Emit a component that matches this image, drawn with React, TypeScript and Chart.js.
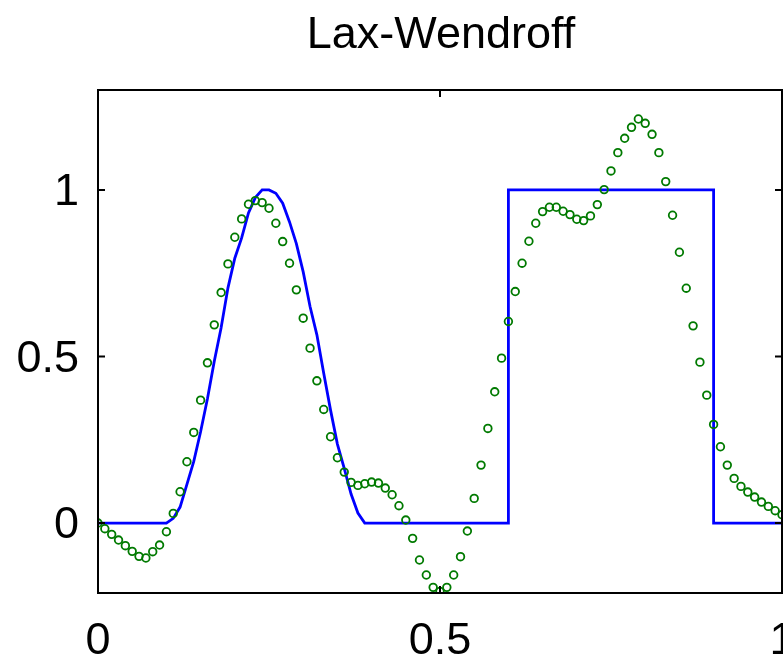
import { useEffect, useRef } from "react";
import { Chart, registerables } from "chart.js";

Chart.register(...registerables);

const TITLE = "Lax-Wendroff";
const FONT = "'Liberation Sans', Arial, Helvetica, sans-serif";

const X_MIN = 0;
const X_MAX = 1;
const Y_MIN = -0.21;
const Y_MAX = 1.3;
const X_TICKS = [0, 0.5, 1];
const Y_TICKS = [0, 0.5, 1];

// exact solution (blue line)
const exactX = [
  0, 0.1, 0.11, 0.12, 0.13, 0.14, 0.15, 0.16, 0.17, 0.18, 0.19, 0.2, 0.21, 0.22, 0.23, 0.24,
  0.25, 0.26, 0.27, 0.28, 0.29, 0.3, 0.31, 0.32, 0.33, 0.34, 0.35, 0.36, 0.37, 0.38, 0.39,
  0.6, 0.6, 0.9, 0.9, 1,
];
const exactY = [
  0, 0, 0.014, 0.048, 0.116, 0.185, 0.274, 0.373, 0.486, 0.586, 0.706, 0.795, 0.856, 0.931, 0.977, 1.0,
  1.0, 0.99, 0.96, 0.904, 0.839, 0.754, 0.65, 0.565, 0.45, 0.339, 0.237, 0.164, 0.087, 0.03, 0,
  0, 1, 1, 0, 0,
];

// numerical solution (green markers), grid x = 0, 0.01, ..., 1
const gridX = [
  0, 0.01, 0.02, 0.03, 0.04, 0.05, 0.06, 0.07, 0.08, 0.09,
  0.1, 0.11, 0.12, 0.13, 0.14, 0.15, 0.16, 0.17, 0.18, 0.19,
  0.2, 0.21, 0.22, 0.23, 0.24, 0.25, 0.26, 0.27, 0.28, 0.29,
  0.3, 0.31, 0.32, 0.33, 0.34, 0.35, 0.36, 0.37, 0.38, 0.39,
  0.4, 0.41, 0.42, 0.43, 0.44, 0.45, 0.46, 0.47, 0.48, 0.49,
  0.5, 0.51, 0.52, 0.53, 0.54, 0.55, 0.56, 0.57, 0.58, 0.59,
  0.6, 0.61, 0.62, 0.63, 0.64, 0.65, 0.66, 0.67, 0.68, 0.69,
  0.7, 0.71, 0.72, 0.73, 0.74, 0.75, 0.76, 0.77, 0.78, 0.79,
  0.8, 0.81, 0.82, 0.83, 0.84, 0.85, 0.86, 0.87, 0.88, 0.89,
  0.9, 0.91, 0.92, 0.93, 0.94, 0.95, 0.96, 0.97, 0.98, 0.99,
  1,
];
const laxWendroffU = [
  0, -0.017, -0.034, -0.051, -0.068, -0.085, -0.1, -0.105, -0.086, -0.066,
  -0.026, 0.029, 0.094, 0.184, 0.272, 0.369, 0.481, 0.595, 0.692, 0.778,
  0.858, 0.913, 0.957, 0.968, 0.962, 0.945, 0.9, 0.845, 0.78, 0.7,
  0.615, 0.525, 0.427, 0.341, 0.259, 0.196, 0.153, 0.122, 0.113, 0.118,
  0.123, 0.12, 0.105, 0.085, 0.052, 0.009, -0.046, -0.111, -0.156, -0.193,
  -0.205, -0.193, -0.156, -0.101, -0.024, 0.074, 0.174, 0.284, 0.394, 0.495,
  0.605, 0.695, 0.78, 0.846, 0.9, 0.935, 0.948, 0.948, 0.936, 0.926,
  0.912, 0.908, 0.922, 0.956, 1.001, 1.057, 1.112, 1.155, 1.188, 1.213,
  1.2, 1.167, 1.112, 1.025, 0.924, 0.813, 0.705, 0.592, 0.483, 0.384,
  0.296, 0.229, 0.174, 0.134, 0.11, 0.093, 0.078, 0.063, 0.05, 0.037,
  0.025,
];

const framePlugin = {
  id: "matlabFrame",
  afterDatasetsDraw(chart: any) {
    const { ctx, chartArea: a, scales } = chart;
    const len = 7;
    ctx.save();
    ctx.strokeStyle = "#000";
    ctx.lineWidth = 2;
    ctx.strokeRect(a.left, a.top, a.right - a.left, a.bottom - a.top);
    ctx.beginPath();
    for (const t of scales.x.ticks) {
      const px = scales.x.getPixelForValue(t.value);
      ctx.moveTo(px, a.bottom);
      ctx.lineTo(px, a.bottom - len);
      ctx.moveTo(px, a.top);
      ctx.lineTo(px, a.top + len);
    }
    for (const t of scales.y.ticks) {
      const py = scales.y.getPixelForValue(t.value);
      ctx.moveTo(a.left, py);
      ctx.lineTo(a.left + len, py);
      ctx.moveTo(a.right, py);
      ctx.lineTo(a.right - len, py);
    }
    ctx.stroke();
    ctx.restore();
  },
};

export default function App() {
  const ref = useRef<HTMLCanvasElement>(null);

  useEffect(() => {
    const chart = new Chart(ref.current as HTMLCanvasElement, {
      type: "scatter",
      data: {
        datasets: [
          {
            label: "Lax-Wendroff",
            data: gridX.map((x, i) => ({ x, y: laxWendroffU[i] })),
            showLine: false,
            pointStyle: "circle",
            pointRadius: 3.8,
            pointBorderWidth: 1.8,
            borderColor: "#007a00",
            backgroundColor: "rgba(255,255,255,0)",
            order: 0,
          },
          {
            label: "exact",
            data: exactX.map((x, i) => ({ x, y: exactY[i] })),
            showLine: true,
            pointRadius: 0,
            borderColor: "#0000ff",
            borderWidth: 2.8,
            backgroundColor: "#0000ff",
            tension: 0,
            order: 1,
          },
        ],
      },
      options: {
        animation: false,
        responsive: false,
        events: [],
        layout: { padding: 0 },
        plugins: {
          legend: { display: false },
          tooltip: { enabled: false },
          title: {
            display: true,
            text: TITLE,
            color: "#000",
            font: { family: FONT, size: 45, weight: "normal", lineHeight: 1 },
            padding: { top: 13, bottom: 32 },
          },
        },
        scales: {
          x: {
            type: "linear",
            position: "bottom",
            min: X_MIN,
            max: X_MAX,
            grid: { display: false, drawTicks: false },
            border: { display: false },
            afterBuildTicks: (s: any) => {
              s.ticks = X_TICKS.map((v) => ({ value: v }));
            },
            afterFit: (s: any) => {
              s.height = 69;
            },
            ticks: {
              autoSkip: false,
              maxRotation: 0,
              padding: 22,
              color: "#000",
              font: { family: FONT, size: 45 },
              callback: (v: any) => String(v),
            },
          },
          y: {
            type: "linear",
            position: "left",
            min: Y_MIN,
            max: Y_MAX,
            grid: { display: false, drawTicks: false },
            border: { display: false },
            afterBuildTicks: (s: any) => {
              s.ticks = Y_TICKS.map((v) => ({ value: v }));
            },
            afterFit: (s: any) => {
              s.width = 98;
            },
            ticks: {
              padding: 19,
              labelOffset: 3,
              color: "#000",
              font: { family: FONT, size: 45 },
              callback: (v: any) => String(v),
            },
          },
          yRight: {
            type: "linear",
            position: "right",
            min: Y_MIN,
            max: Y_MAX,
            grid: { display: false, drawTicks: false },
            border: { display: false },
            ticks: { display: false },
            afterFit: (s: any) => {
              s.width = 100;
            },
          },
        },
      } as any,
      plugins: [framePlugin],
    });
    return () => chart.destroy();
  }, []);

  return (
    <div
      style={{
        position: "fixed",
        left: 0,
        top: 0,
        width: 783,
        height: 662,
        overflow: "hidden",
        background: "#fff",
      }}
    >
      <canvas
        ref={ref}
        width={882}
        height={662}
        style={{ display: "block", width: 882, height: 662 }}
      />
    </div>
  );
}
